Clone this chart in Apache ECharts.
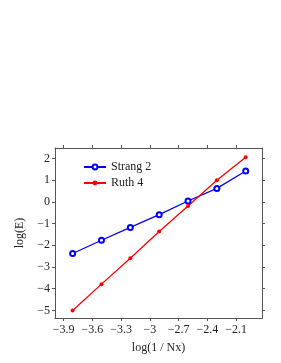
<!DOCTYPE html>
<html><head><meta charset="utf-8">
<script src="https://cdn.jsdelivr.net/npm/echarts@6/dist/echarts.min.js"></script>
<style>html,body{margin:0;padding:0;background:#fff}#c{width:281px;height:363px}</style>
</head><body><div id="c"></div>
<script>
const xValues = [-3.806, -3.505, -3.204, -2.903, -2.602, -2.301, -2.0];
const strang2 = [-2.38, -1.77, -1.18, -0.59, 0.04, 0.62, 1.42];
const ruth4 = [-5.0, -3.79, -2.6, -1.37, -0.19, 0.99, 2.05];
const xTicks = [-3.9, -3.6, -3.3, -3.0, -2.7, -2.4, -2.1];
const yTicks = [-5, -4, -3, -2, -1, 0, 1, 2];

const fmt = v => String(Math.round(v * 10) / 10).replace('-', '\u2212');
const font = 'Liberation Serif';
const axisLine = { show: true, onZero: false, lineStyle: { color: '#555', width: 1 } };
const tick = (vals) => ({ show: true, inside: false, length: 3, customValues: vals, lineStyle: { color: '#555' } });

const chart = echarts.init(document.getElementById('c'));
chart.setOption({
  animation: false,
  grid: { left: 55, top: 148, width: 207, height: 170 },
  legend: {
    left: 78, top: 156, orient: 'vertical', itemGap: 4, itemWidth: 22, itemHeight: 6,
    textStyle: { fontFamily: font, fontSize: 12, color: '#222' },
    itemStyle: { borderWidth: 1 },
    data: ['Strang 2', 'Ruth 4']
  },
  xAxis: [{
    type: 'value', min: -3.99, max: -1.83, position: 'bottom',
    axisLine, splitLine: { show: false }, axisTick: tick(xTicks),
    axisLabel: { customValues: xTicks, formatter: fmt, fontFamily: font, fontSize: 12, color: '#222', margin: 6 },
    name: 'log(1 / Nx)', nameLocation: 'middle', nameGap: 24,
    nameTextStyle: { fontFamily: font, fontSize: 12, color: '#222' }
  }, {
    type: 'value', min: -3.99, max: -1.83, position: 'top',
    axisLine, splitLine: { show: false }, axisTick: tick(xTicks), axisLabel: { show: false }
  }],
  yAxis: [{
    type: 'value', min: -5.35, max: 2.48, position: 'left',
    axisLine, splitLine: { show: false }, axisTick: tick(yTicks),
    axisLabel: { customValues: yTicks, formatter: fmt, fontFamily: font, fontSize: 12, color: '#222', margin: 5 },
    name: 'log(E)', nameLocation: 'middle', nameGap: 25, nameRotate: 90,
    nameTextStyle: { fontFamily: font, fontSize: 12, color: '#222' }
  }, {
    type: 'value', min: -5.35, max: 2.48, position: 'right',
    axisLine, splitLine: { show: false }, axisTick: tick(yTicks), axisLabel: { show: false }
  }],
  series: [{
    name: 'Strang 2', type: 'line', data: xValues.map((x, i) => [x, strang2[i]]),
    symbol: 'emptyCircle', symbolSize: 5, color: '#0000ff',
    lineStyle: { width: 1.3, color: '#0000ff' }, itemStyle: { color: '#0000ff', borderWidth: 1 }
  }, {
    name: 'Ruth 4', type: 'line', data: xValues.map((x, i) => [x, ruth4[i]]),
    symbol: 'circle', symbolSize: 4, color: '#ff0000',
    lineStyle: { width: 1.3, color: '#ff0000' }, itemStyle: { color: '#ff0000' }
  }]
});
</script></body></html>
